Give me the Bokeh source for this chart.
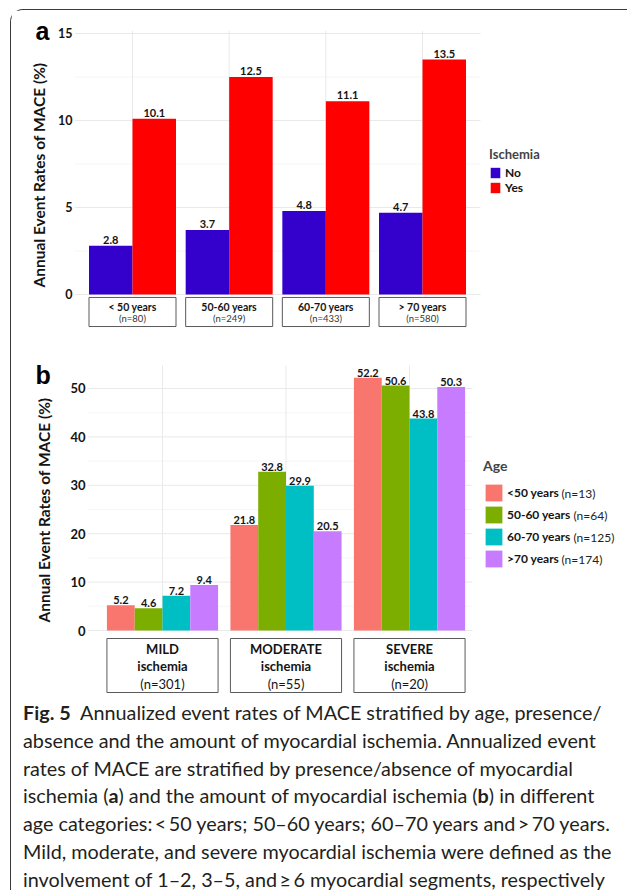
import math
from bokeh.plotting import figure
from bokeh.models import (ColumnDataSource, Range1d, FixedTicker, Legend, LegendItem,
                          Label, Div, Title)
from bokeh.layouts import column
from bokeh.transform import dodge
from bokeh.core.properties import value
from bokeh.embed import file_html
from bokeh.resources import INLINE

# ---------------- data: panel a ----------------
age_groups = ["< 50 years", "50-60 years", "60-70 years", "> 70 years"]
age_group_n = ["(n=80)", "(n=249)", "(n=433)", "(n=580)"]
rate_no_ischemia = [2.8, 3.7, 4.8, 4.7]
rate_ischemia = [10.1, 12.5, 11.1, 13.5]
ticks_a = [0, 5, 10, 15]

# ---------------- data: panel b ----------------
ischemia_groups = ["MILD", "MODERATE", "SEVERE"]
ischemia_word = ["ischemia", "ischemia", "ischemia"]
ischemia_n = ["(n=301)", "(n=55)", "(n=20)"]
age_labels = ["<50 years", "50-60 years", "60-70 years", ">70 years"]
age_n = ["(n=13)", "(n=64)", "(n=125)", "(n=174)"]
rate_lt50 = [5.2, 21.8, 52.2]
rate_50_60 = [4.6, 32.8, 50.6]
rate_60_70 = [7.2, 29.9, 43.8]
rate_gt70 = [9.4, 20.5, 50.3]
ticks_b = [0, 10, 20, 30, 40, 50]

# ---------------- style ----------------
FONT = "Lato"
LETTER_FONT = "Liberation Sans"
BLUE, RED = "#3300CC", "#FF0000"
AGE_COLORS = ["#F8766D", "#7CAE00", "#00BFC4", "#C77CFF"]
GRID_MAJ, GRID_MIN = "#e9e9e9", "#f4f4f4"
TXT = "#141414"
W = 616
LEFT = 63            # both frames start at the same x (column aligns frames)
YTITLE = "Annual Event Rates of MACE (%)"


def style_yaxis(p, ticks, size, standoff):
    ax = p.yaxis[0]
    ax.ticker = FixedTicker(ticks=ticks, minor_ticks=[])
    ax.axis_line_color = None
    ax.major_tick_line_color = None
    ax.minor_tick_line_color = None
    ax.major_tick_out = 0
    ax.major_tick_in = 0
    ax.major_label_standoff = standoff
    ax.major_label_text_font = FONT
    ax.major_label_text_font_style = "bold"
    ax.major_label_text_font_size = size
    ax.major_label_text_color = TXT


def y_title(p, offset, standoff):
    p.add_layout(Title(text=YTITLE, align="left", offset=offset, standoff=standoff,
                       vertical_align="bottom", text_font=FONT,
                       text_font_style="bold", text_font_size="15.5px",
                       text_color=TXT), "left")


def panel_letter(p, letter, standoff):
    p.add_layout(Title(text=letter, align="left", offset=-39, standoff=standoff,
                       vertical_align="bottom", text_font=LETTER_FONT,
                       text_font_style="bold", text_font_size="25px",
                       text_color="#000000"), "above")


def fmt(vals):
    return [f"{v:.1f}" for v in vals]


# =============== panel a ===============
A_TOP, A_FRAME_H, A_BOTTOM = 20, 298, 15
A_PXU = 96.67
a_x0 = 0.4
a_x1 = a_x0 + (W - LEFT) / A_PXU
a_y0, a_y1 = -1.954, 15.172

fa = figure(width=W, height=A_TOP + A_FRAME_H + A_BOTTOM,
            x_range=Range1d(a_x0, a_x1), y_range=Range1d(a_y0, a_y1),
            x_axis_location=None, output_backend="svg", toolbar_location=None,
            min_border_left=LEFT, min_border_right=0,
            min_border_top=A_TOP, min_border_bottom=A_BOTTOM)
fa.outline_line_color = None
fa.grid.visible = False

xa = list(range(1, len(age_groups) + 1))
a_panel_right = len(age_groups) + 0.6
minor_a = [(ticks_a[i] + ticks_a[i + 1]) / 2 for i in range(len(ticks_a) - 1)]
fa.segment(x0=a_x0, x1=a_panel_right, y0=minor_a, y1=minor_a,
           line_color=GRID_MIN, line_width=0.8)
fa.segment(x0=a_x0, x1=a_panel_right, y0=ticks_a, y1=ticks_a,
           line_color=GRID_MAJ, line_width=1)
fa.segment(x0=xa, x1=xa, y0=0, y1=a_y1, line_color=GRID_MAJ, line_width=1)

src_a = ColumnDataSource(dict(x=xa, no=rate_no_ischemia, yes=rate_ischemia,
                              no_lbl=fmt(rate_no_ischemia), yes_lbl=fmt(rate_ischemia),
                              grp=age_groups, n=age_group_n))
r_no = fa.vbar(x=dodge("x", -0.225), top="no", width=0.45, source=src_a,
               fill_color=BLUE, line_color=None)
r_yes = fa.vbar(x=dodge("x", 0.225), top="yes", width=0.45, source=src_a,
                fill_color=RED, line_color=None)
for off, col in ((-0.225, "no"), (0.225, "yes")):
    fa.text(x=dodge("x", off), y=col, text=col + "_lbl", source=src_a,
            text_align="center", text_baseline="bottom", y_offset=-2,
            text_font=value(FONT), text_font_style="bold", text_font_size="11px",
            text_color=TXT)

fa.quad(left=dodge("x", -0.45), right=dodge("x", 0.45), top=-0.17, bottom=-1.84,
        source=src_a, fill_color="white", line_color="#5a5a5a", line_width=1)
fa.text(x="x", y=-0.69, text="grp", source=src_a, text_align="center",
        text_baseline="middle", text_font=value(FONT), text_font_style="bold",
        text_font_size="10.5px", text_color=TXT)
fa.text(x="x", y=-1.38, text="n", source=src_a, text_align="center",
        text_baseline="middle", text_font=value(FONT), text_font_size="9.5px",
        text_color="#333333")

style_yaxis(fa, ticks_a, "12.5px", 2)
y_title(fa, 41, 16)
panel_letter(fa, "a", -28)

leg_a = Legend(items=[LegendItem(label="No", renderers=[r_no]),
                      LegendItem(label="Yes", renderers=[r_yes])],
               title="Ischemia", location=(415, 133),
               title_text_font=FONT, title_text_font_style="bold",
               title_text_font_size="13px", title_standoff=3,
               label_text_font=FONT, label_text_font_style="bold",
               label_text_font_size="12px", label_text_color=TXT,
               glyph_width=12, glyph_height=13, label_height=13, label_standoff=4,
               spacing=0, padding=0, margin=0, border_line_color=None,
               background_fill_alpha=0)
fa.add_layout(leg_a)

# =============== panel b ===============
B_TOP, B_FRAME_H, B_BOTTOM = 22, 329, 0
B_PXU = 123.5
b_x0 = 1 - (162 - 74) / B_PXU
b_x1 = b_x0 + (W - LEFT) / B_PXU
b_y0, b_y1 = -13.22, 54.75

fb = figure(width=W, height=B_TOP + B_FRAME_H + B_BOTTOM,
            x_range=Range1d(b_x0, b_x1), y_range=Range1d(b_y0, b_y1),
            x_axis_location=None, output_backend="svg", toolbar_location=None,
            min_border_left=LEFT, min_border_right=0,
            min_border_top=B_TOP, min_border_bottom=B_BOTTOM)
fb.outline_line_color = None
fb.grid.visible = False

xb = list(range(1, len(ischemia_groups) + 1))
b_panel_left, b_panel_right = 0.393, 3.51
minor_b = [(ticks_b[i] + ticks_b[i + 1]) / 2 for i in range(len(ticks_b) - 1)]
fb.segment(x0=b_panel_left, x1=b_panel_right, y0=minor_b, y1=minor_b,
           line_color=GRID_MIN, line_width=0.8)
fb.segment(x0=b_panel_left, x1=b_panel_right, y0=ticks_b, y1=ticks_b,
           line_color=GRID_MAJ, line_width=1)
fb.segment(x0=xb, x1=xb, y0=0, y1=b_y1, line_color=GRID_MAJ, line_width=1)

series_b = [rate_lt50, rate_50_60, rate_60_70, rate_gt70]
cols_b = ["s0", "s1", "s2", "s3"]
data_b = dict(x=xb, grp=ischemia_groups, word=ischemia_word, n=ischemia_n)
for c, s in zip(cols_b, series_b):
    data_b[c] = s
    data_b[c + "_lbl"] = fmt(s)
src_b = ColumnDataSource(data_b)

BW = 0.225
offsets_b = [-1.5 * BW, -0.5 * BW, 0.5 * BW, 1.5 * BW]
rend_b = []
for c, off, color in zip(cols_b, offsets_b, AGE_COLORS):
    r = fb.vbar(x=dodge("x", off), top=c, width=BW, source=src_b,
                fill_color=color, line_color=None)
    rend_b.append(r)
    fb.text(x=dodge("x", off), y=c, text=c + "_lbl", source=src_b,
            text_align="center", text_baseline="bottom", y_offset=-1,
            text_font=value(FONT), text_font_style="bold", text_font_size="11px",
            text_color=TXT)

fb.quad(left=dodge("x", -0.45), right=dodge("x", 0.45), top=-1.65, bottom=-12.81,
        source=src_b, fill_color="white", line_color="#5a5a5a", line_width=1)
fb.text(x="x", y=-3.72, text="grp", source=src_b, text_align="center",
        text_baseline="middle", text_font=value(FONT), text_font_style="bold",
        text_font_size="13px", text_color=TXT)
fb.text(x="x", y=-7.23, text="word", source=src_b, text_align="center",
        text_baseline="middle", text_font=value(FONT), text_font_style="bold",
        text_font_size="13px", text_color=TXT)
fb.text(x="x", y=-10.95, text="n", source=src_b, text_align="center",
        text_baseline="middle", text_font=value(FONT), text_font_size="13px",
        text_color=TXT)

style_yaxis(fb, ticks_b, "13px", -11)
y_title(fb, 72, 30)
panel_letter(fb, "b", -46)

LEG_B_X, LEG_B_Y, KEY, KEY_GAP = 409, 125, 21, 1
leg_b = Legend(items=[LegendItem(label=l, renderers=[r]) for l, r in zip(age_labels, rend_b)],
               title="Age", location=(LEG_B_X, LEG_B_Y),
               title_text_font=FONT, title_text_font_style="bold",
               title_text_font_size="14px", title_standoff=8,
               label_text_font=FONT, label_text_font_style="bold",
               label_text_font_size="12px", label_text_color=TXT,
               glyph_width=KEY, glyph_height=KEY, label_height=KEY, label_standoff=3,
               spacing=KEY_GAP, padding=0, margin=0, border_line_color=None,
               background_fill_alpha=0)
fb.add_layout(leg_b)

bold_label_px = [51, 63, 63, 51]
for i, (txt, wpx) in enumerate(zip(age_n, bold_label_px)):
    yc = LEG_B_Y + (len(age_n) - 1 - i) * (KEY + KEY_GAP) + KEY / 2
    fb.add_layout(Label(x=LEG_B_X + KEY + 3 + wpx + 3, y=yc, x_units="screen",
                        y_units="screen", text=txt, text_align="left",
                        text_baseline="middle", text_font=FONT,
                        text_font_size="12px", text_color="#222222"))

# =============== caption ===============
caption_html = (
    '<div style="padding-left:7px; white-space:nowrap; font-family:Lato, sans-serif; '
    'font-size:19.8px; line-height:27.8px; color:#231f20;">'
    '<b>Fig.&nbsp;5</b>&nbsp; Annualized event rates of MACE stratified by age, presence/<br>'
    'absence and the amount of myocardial ischemia. Annualized event<br>'
    'rates of MACE are stratified by presence/absence of myocardial<br>'
    'ischemia (<b>a</b>) and the amount of myocardial ischemia (<b>b</b>) in different<br>'
    'age categories:&thinsp;&lt;&thinsp;50 years; 50–60 years; 60–70 years and&thinsp;&gt;&thinsp;70 years.<br>'
    'Mild, moderate, and severe myocardial ischemia were defined as the<br>'
    'involvement of 1–2, 3–5, and&thinsp;≥&thinsp;6 myocardial segments, respectively'
    '</div>'
)
cap = Div(text=caption_html, width=W, height=194)

layout = column(fa, fb, cap, styles={
    "margin-left": "10px",
    "margin-top": "9px",
    "border-left": "1px solid #3a3a3a",
    "border-top": "1px solid #3a3a3a",
    "border-top-left-radius": "13px",
})

open("out.html", "w").write(file_html(layout, INLINE))
